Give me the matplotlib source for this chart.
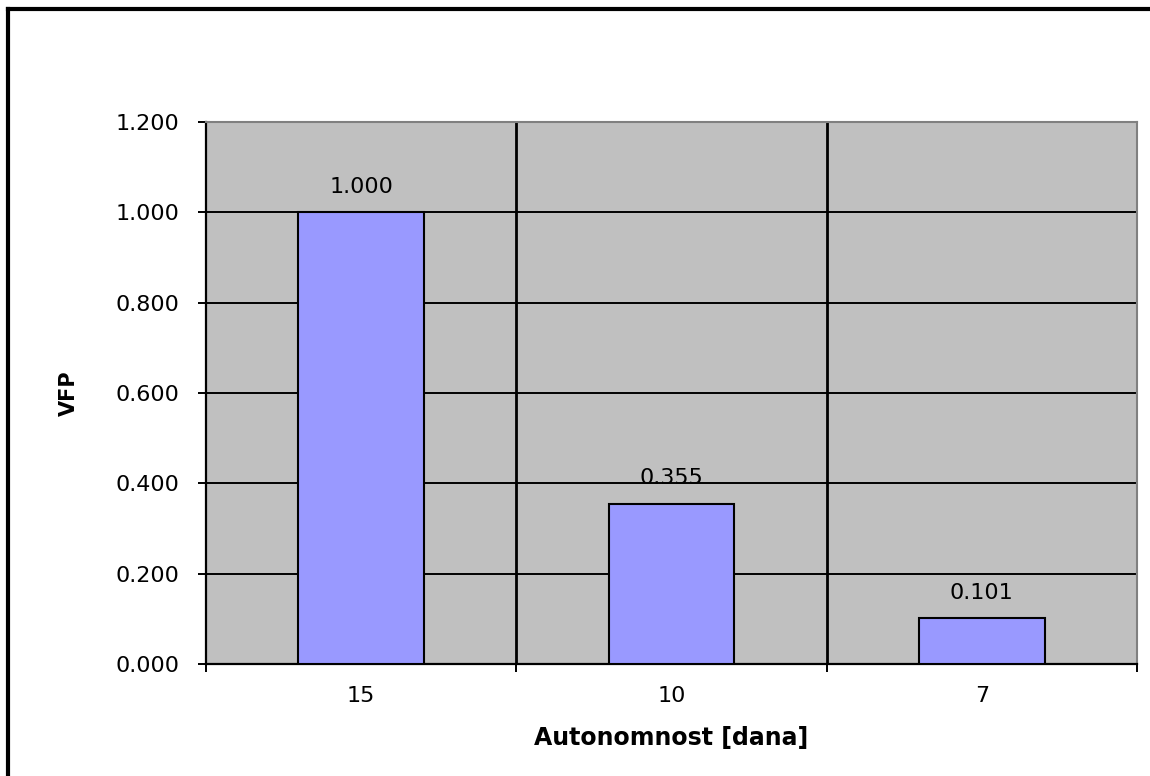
import matplotlib.pyplot as plt
import matplotlib.lines as mlines

plt.rcParams['font.family'] = ['DejaVu Sans']

categories = ['15', '10', '7']
values = [1.000, 0.355, 0.101]
yticks = [0.0, 0.2, 0.4, 0.6, 0.8, 1.0, 1.2]

fig = plt.figure(figsize=(11.5, 7.76), dpi=100)
ax = fig.add_axes([206/1150, 1 - 664/776, 931/1150, 542/776])
ax.set_facecolor('#C0C0C0')

x = range(len(categories))
bars = ax.bar(x, values, width=0.406, color='#9999FF', edgecolor='black', linewidth=1.5, zorder=3)
for xi, v in zip(x, values):
    ax.annotate(f'{v:.3f}', xy=(xi, v), xytext=(0, 11), textcoords='offset points',
                ha='center', va='bottom', fontsize=16)

ax.set_xlim(-0.5, len(categories) - 0.5)
ax.set_ylim(0, 1.2)
ax.set_yticks(yticks)
ax.set_yticklabels([f'{t:.3f}' for t in yticks], fontsize=16)
ax.yaxis.grid(True, color='black', linewidth=1.4, zorder=1)
ax.set_axisbelow(True)

# category boundaries as ticks and vertical grid
bounds = [i - 0.5 for i in range(len(categories) + 1)]
ax.set_xticks(bounds)
ax.set_xticklabels([])
ax.set_xticks(list(x), minor=True)
ax.set_xticklabels(categories, minor=True, fontsize=16)
ax.tick_params(axis='x', which='minor', length=0, pad=16)
ax.tick_params(axis='x', which='major', length=6, width=1.4, direction='out')
ax.tick_params(axis='y', length=6, width=1.4, direction='out', pad=13)
for b in bounds[1:-1]:
    ax.axvline(b, color='black', linewidth=2, zorder=1)

for s in ['left', 'bottom']:
    ax.spines[s].set_color('black')
    ax.spines[s].set_linewidth(1.6)
for s in ['top', 'right']:
    ax.spines[s].set_color('#808080')
    ax.spines[s].set_linewidth(1.5)

ax.set_xlabel('Autonomnost [dana]', fontsize=17, fontweight='bold')
ax.set_ylabel('VFP', fontsize=15, fontweight='bold')
ax.xaxis.set_label_coords(0.5, -0.115)
ax.yaxis.set_label_coords(-0.147, 0.5)
ax.yaxis.label.set_va('center')

# chart-area border (only top and left edges are in frame)
fig.lines.append(mlines.Line2D([8/1150, 1], [1 - 9/776, 1 - 9/776], transform=fig.transFigure,
                               color='black', linewidth=3))
fig.lines.append(mlines.Line2D([8/1150, 8/1150], [0, 1 - 9/776], transform=fig.transFigure,
                               color='black', linewidth=3))

plt.savefig('out.png', dpi=100)
